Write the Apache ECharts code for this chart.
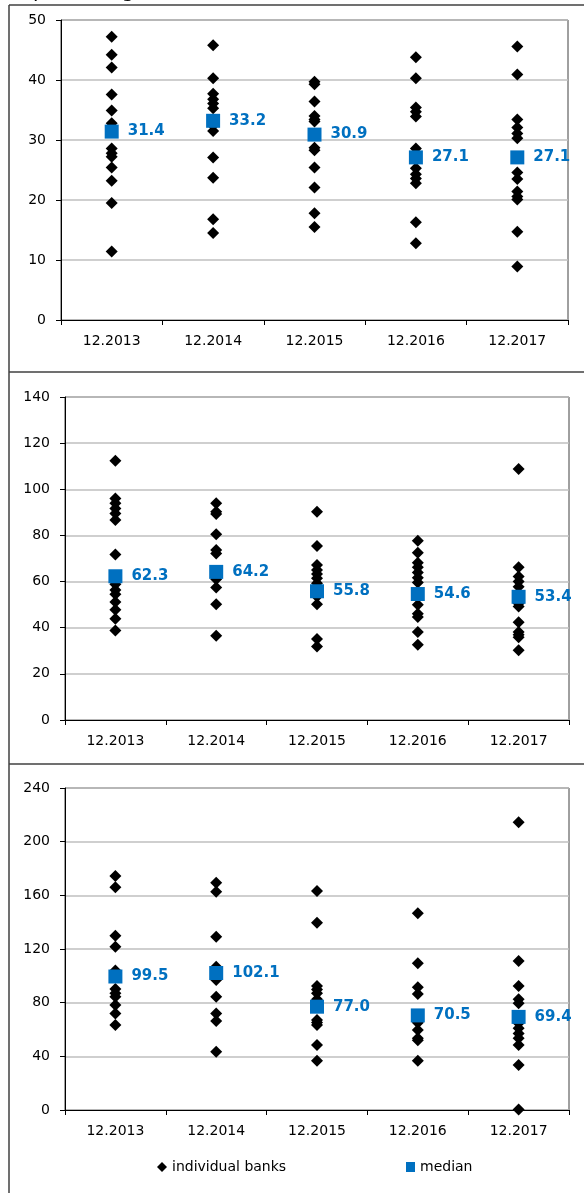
<!DOCTYPE html>
<html>
<head>
<meta charset="utf-8">
<script src="https://cdn.jsdelivr.net/npm/echarts@6/dist/echarts.min.js"></script>
<style>
html, body { margin: 0; padding: 0; background: #fff; }
#view { width: 584px; height: 1193px; }
</style>
</head>
<body>
<div id="view"></div>
<script>
var myChart = echarts.init(document.getElementById('view'));

var categories = ['12.2013', '12.2014', '12.2015', '12.2016', '12.2017'];

// top panel, one list per year
var banksTop = [
    [47.2, 44.2, 42.1, 37.6, 34.9, 32.8, 28.6, 27.8, 27.2, 25.4, 23.2, 19.5, 11.4],
    [45.8, 40.3, 37.7, 36.8, 36.1, 35.3, 32.4, 31.5, 27.1, 23.7, 16.8, 14.5],
    [39.7, 39.3, 36.4, 34.0, 33.4, 33.1, 28.7, 28.3, 25.4, 22.1, 17.8, 15.5],
    [43.8, 40.3, 35.4, 34.7, 33.9, 28.6, 25.3, 24.3, 23.6, 22.8, 16.3, 12.8],
    [45.6, 40.9, 33.4, 32.1, 31.1, 30.3, 24.6, 23.5, 21.4, 20.6, 20.1, 14.7, 8.9]
];
var mediansTop = [31.4, 33.2, 30.9, 27.1, 27.1];

var banksMid = [
    [112.4, 96.0, 93.9, 91.7, 89.5, 86.7, 71.7, 60.4, 58.8, 56.4, 54.5, 51.1, 47.8, 43.9, 38.8],
    [93.9, 90.3, 89.3, 80.5, 73.7, 72.2, 61.0, 57.4, 50.2, 36.5],
    [90.3, 75.4, 67.2, 65.0, 63.3, 61.4, 59.3, 53.5, 50.2, 35.1, 31.9],
    [77.7, 72.5, 68.2, 66.2, 63.9, 61.7, 59.6, 49.9, 46.0, 44.6, 38.1, 32.6],
    [108.8, 66.2, 62.2, 60.0, 57.8, 50.5, 49.2, 42.4, 38.1, 36.9, 35.9, 30.2]
];
var mediansMid = [62.3, 64.2, 55.8, 54.6, 53.4];

var banksBot = [
    [174.4, 166.0, 129.9, 121.7, 103.9, 90.2, 87.0, 84.5, 78.3, 72.0, 63.4],
    [169.4, 162.7, 129.2, 106.8, 96.9, 84.5, 72.0, 66.3, 43.5],
    [163.2, 139.6, 92.4, 89.9, 87.0, 82.5, 67.1, 65.3, 63.4, 48.4, 36.8],
    [146.6, 109.3, 91.4, 86.5, 65.0, 59.6, 53.4, 52.0, 36.8],
    [214.4, 111.1, 92.4, 82.5, 79.5, 64.6, 60.9, 57.1, 53.4, 48.4, 33.5, 0.3]
];
var mediansBot = [99.5, 102.1, 77.0, 70.5, 69.4];

var font = 'DejaVu Sans';
var panels = [
    { banks: banksTop, medians: mediansTop, max: 50, interval: 10 },
    { banks: banksMid, medians: mediansMid, max: 140, interval: 20 },
    { banks: banksBot, medians: mediansBot, max: 240, interval: 40 }
];
var grids = [
    { left: 61, top: 20, width: 507, height: 300 },
    { left: 65, top: 397, width: 504, height: 323 },
    { left: 65, top: 788, width: 504, height: 322 }
];

var xAxes = [], yAxes = [], series = [];

panels.forEach(function (p, g) {
    grids[g].show = true;
    grids[g].borderColor = '#404040';
    grids[g].borderWidth = 1;

    xAxes.push({
        type: 'category',
        gridIndex: g,
        data: categories,
        boundaryGap: true,
        axisLine: { lineStyle: { color: '#000', width: 1 } },
        axisTick: { show: true, length: 5, lineStyle: { color: '#000' } },
        axisLabel: { color: '#000', fontSize: 14, fontFamily: font, margin: 14 },
        splitLine: { show: false }
    });
    yAxes.push({
        type: 'value',
        gridIndex: g,
        min: 0,
        max: p.max,
        interval: p.interval,
        axisLine: { show: true, lineStyle: { color: '#000', width: 1 } },
        axisTick: { show: true, length: 5, lineStyle: { color: '#000' } },
        axisLabel: { color: '#000', fontSize: 14, fontFamily: font, margin: 15 },
        splitLine: { show: true, lineStyle: { color: '#bfbfbf', width: 1.5 } }
    });

    var pts = [];
    p.banks.forEach(function (vals, i) {
        vals.forEach(function (v) { pts.push([i, v]); });
    });
    series.push({
        name: 'individual banks',
        type: 'scatter',
        xAxisIndex: g,
        yAxisIndex: g,
        symbol: 'diamond',
        symbolSize: 12,
        clip: false,
        itemStyle: { color: '#000', opacity: 1 },
        data: pts,
        z: 2
    });
    series.push({
        name: 'median',
        type: 'scatter',
        xAxisIndex: g,
        yAxisIndex: g,
        symbol: 'rect',
        symbolSize: 14,
        clip: false,
        itemStyle: { color: '#0070C0', opacity: 1 },
        label: {
            show: true,
            position: 'right',
            distance: 9,
            color: '#0070C0',
            fontSize: 15,
            fontWeight: 'bold',
            fontFamily: font,
            formatter: function (params) { return params.value[1].toFixed(1); }
        },
        data: p.medians.map(function (v, i) { return [i, v]; }),
        z: 3
    });
});

var frame = { stroke: '#404040', lineWidth: 1.5 };

var option = {
    animation: false,
    backgroundColor: '#fff',
    grid: grids,
    xAxis: xAxes,
    yAxis: yAxes,
    legend: [
        {
            data: [{ name: 'individual banks', icon: 'diamond' }],
            left: 152, top: 1155,
            itemWidth: 10, itemHeight: 10, itemGap: 5,
            textStyle: { color: '#000', fontSize: 14, fontFamily: font }
        },
        {
            data: [{ name: 'median', icon: 'rect' }],
            left: 401, top: 1155,
            itemWidth: 9, itemHeight: 10, itemGap: 5,
            textStyle: { color: '#000', fontSize: 14, fontFamily: font }
        }
    ],
    graphic: [
        { type: 'text', left: 33, top: -18, style: { text: 'percentages', fill: '#000', font: '20px "DejaVu Sans"' } },
        { type: 'line', shape: { x1: 9, y1: 5, x2: 584, y2: 5 }, style: frame },
        { type: 'line', shape: { x1: 9, y1: 5, x2: 9, y2: 1193 }, style: frame },
        { type: 'line', shape: { x1: 9, y1: 372, x2: 584, y2: 372 }, style: frame },
        { type: 'line', shape: { x1: 9, y1: 764, x2: 584, y2: 764 }, style: frame }
    ],
    series: series
};

myChart.setOption(option);
</script>
</body>
</html>
